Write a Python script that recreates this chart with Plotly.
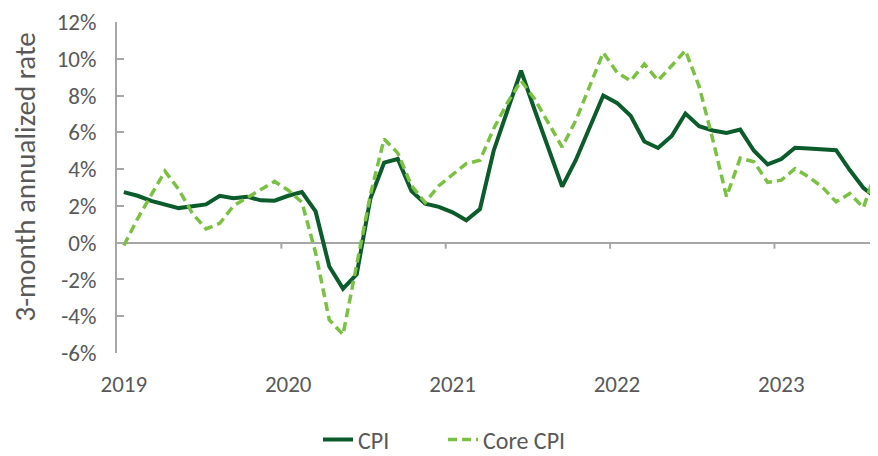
import plotly.graph_objects as go

# Monthly observations, Jan 2019 .. Aug 2023 (3-month annualized rate, %)
months = list(range(56))
cpi = [2.75, 2.55, 2.27, 2.05, 1.88, 1.98, 2.08, 2.55, 2.42, 2.50, 2.30, 2.28,
       2.55, 2.75, 1.70, -1.30, -2.50, -1.72, 2.40, 4.35, 4.55, 2.81, 2.12, 1.95,
       1.65, 1.22, 1.83, 5.00, 7.20, 9.35, 7.20, 5.10, 3.05, 4.50, 6.30, 8.00,
       7.60, 6.90, 5.50, 5.15, 5.80, 7.02, 6.33, 6.10, 5.97, 6.15, 5.00, 4.26,
       4.55, 5.16, 5.12, 5.10, 5.03, 3.95, 2.97, 2.40]
core_cpi = [-0.15, 1.30, 2.60, 3.89, 2.90, 1.60, 0.75, 1.05, 2.00, 2.45, 2.85, 3.33,
            2.85, 2.20, -0.55, -4.20, -5.00, -1.30, 2.60, 5.64, 4.87, 3.10, 2.18, 3.10,
            3.71, 4.30, 4.48, 6.20, 7.60, 8.80, 7.80, 6.50, 5.20, 6.65, 8.50, 10.34,
            9.26, 8.80, 9.71, 8.82, 9.62, 10.45, 8.50, 5.60, 2.50, 4.60, 4.40, 3.28,
            3.40, 4.02, 3.58, 3.02, 2.22, 2.67, 1.91, 4.10]
year_labels = ["2019", "2020", "2021", "2022", "2023"]
year_start_idx = [0, 12, 24, 36, 48]
y_ticks = [-6, -4, -2, 0, 2, 4, 6, 8, 10, 12]
y_title = "3-month annualized rate"

FONT = "Carlito, Calibri, 'Liberation Sans Narrow', Lato, sans-serif"
GREY = "#A6A6A6"
TXT = "#595959"

fig = go.Figure()
fig.add_trace(go.Scatter(x=months, y=cpi, mode="lines", name="CPI",
                         line=dict(color="#0B5B2B", width=4)))
fig.add_trace(go.Scatter(x=months, y=core_cpi, mode="lines", name="Core CPI",
                         line=dict(color="#7AC143", width=3.5, dash="9px,5px")))

# tick marks hanging below the zero line at year boundaries
for k in year_start_idx[1:]:
    fig.add_shape(type="line", xref="x", yref="y", x0=k - 0.5, x1=k - 0.5,
                  ysizemode="pixel", yanchor=0, y0=0, y1=-6,
                  line=dict(color=GREY, width=2))

fig.add_annotation(text=y_title, textangle=-90, xref="paper", yref="paper",
                   x=0, y=0.53, xanchor="center", yanchor="middle",
                   xshift=-92, showarrow=False,
                   font=dict(size=29, color=TXT, family=FONT))

fig.update_layout(
    width=870, height=448,
    margin=dict(l=109, r=0, t=11, b=103),
    paper_bgcolor="white", plot_bgcolor="white",
    font=dict(family=FONT, color=TXT, size=23),
    showlegend=True,
    legend=dict(orientation="h", xref="container", yref="container",
                x=0.5, xanchor="center", y=0.036, yanchor="middle",
                entrywidth=80, entrywidthmode="pixels",
                font=dict(size=24, color=TXT)),
    xaxis=dict(range=[-0.5, 55.06], tickmode="array", tickvals=year_start_idx,
               ticktext=year_labels, ticks="", showgrid=False, showline=False,
               zeroline=False, ticklabelstandoff=15,
               tickfont=dict(size=23, color=TXT)),
    yaxis=dict(range=[-6, 12], tickmode="array", tickvals=y_ticks,
               ticktext=[f"{v}%" for v in y_ticks], ticks="inside", ticklen=7,
               tickwidth=2, tickcolor=GREY, showline=True, linecolor=GREY,
               linewidth=2, showgrid=False, zeroline=True, zerolinecolor=GREY,
               zerolinewidth=2, ticklabelstandoff=14, ticklabeloverflow="allow",
               tickfont=dict(size=23, color=TXT)),
)

fig.write_html("out.html")
